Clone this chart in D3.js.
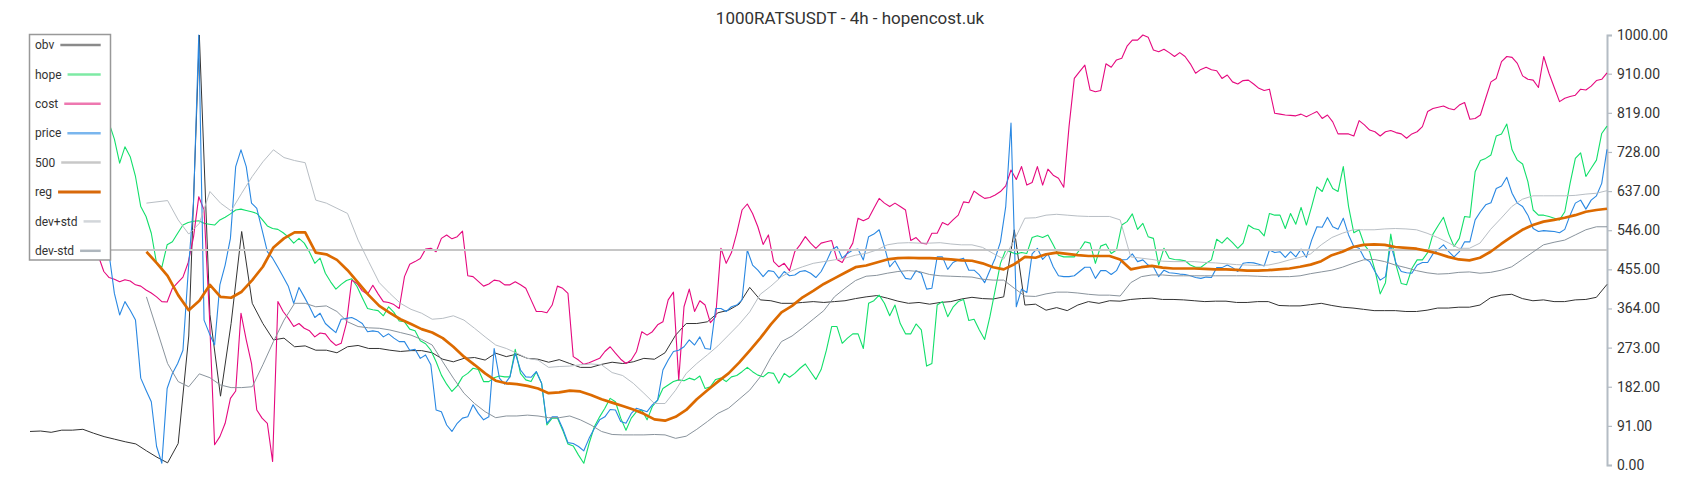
<!DOCTYPE html>
<html><head><meta charset="utf-8">
<script src="https://cdn.jsdelivr.net/npm/d3@7"></script>
<style>body{margin:0;background:#fff;} svg{display:block;font-family:Roboto, sans-serif;}</style>
</head><body><svg id="chart" width="1700" height="500"></svg>
<script>
// ---- data (values on a 0..1000 normalised scale) ----
const obv = [78,79,76,81,81,83,74,66,60,54,
49,33,18,5,50,300,1000,350,160,329,
543,376,329,291,295,275,277,267,267,261,
275,278,271,271,267,264,266,266,261,246,
240,248,250,244,260,252,258,248,246,239,
245,236,227,227,234,239,236,240,248,246,
261,302,329,329,333,354,360,374,413,384,
382,376,376,378,380,378,380,382,387,391,
394,388,381,376,378,374,378,380,386,390,
387,386,391,547,372,374,360,366,359,372,
380,376,382,381,385,387,388,385,385,384,
382,380,381,381,378,378,380,380,371,370,
370,373,376,371,367,365,362,359,359,359,
357,357,360,365,365,367,367,372,389,395,
397,387,382,384,380,380,384,385,390,420];

const hope = [700,710,740,760,750,780,800,790,810,800,820,810,800,790,800,
795,
758,702,740,717,671,601,578,539,469,460,512,519,539,558,564,567,568,562,560,558,570,576,584,593,595,592,589,585,571,556,550,
548,540,530,516,527,516,495,469,481,446,426,409,420,429,433,415,389,364,361,359,347,368,355,335,333,316,312,289,282,267,240,209,188,171,184,205,213,225,222,194,194,203,207,205,205,
269,213,198,
194,217,190,93,109,109,81,49,44,23,4,50,89,112,132,155,147,109,81,109,124,128,105,136,151,178,186,194,198,196,202,198,207,178,182,199,202,194,205,208,217,227,217,209,205,215,213,190,
213,204,213,225,235,217,199,222,267,322,322,283,295,305,305,271,376,382,395,376,347,372,329,305,305,328,314,230,236,372,380,345,367,380,385,336,339,314,292,345,407,469,500,495,491,494,492,
529,533,529,535,512,488,484,484,484,500,519,516,469,509,514,492,500,558,566,584,548,562,531,527,465,504,481,478,477,475,465,460,460,469,477,525,516,529,517,504,516,558,550,547,533,585,581,
581,550,585,560,599,558,601,647,636,667,643,636,694,601,540,547,512,496,453,398,424,537,465,422,419,457,477,477,494,537,557,576,537,508,527,578,576,682,708,713,721,765,770,793,733,709,700,659,593,581,581,578,574,570,589,655,713,726,671,690,709,771,788];

const cost = [560,555,545,540,535,530,525,520,515,510,505,500,495,485,
450,436,432,426,431,428,419,416,407,400,391,380,379,411,424,437,471,530,624,593,353,47,66,97,155,172,353,291,236,128,109,97,8,
380,357,341,322,329,318,312,298,307,305,289,278,283,330,430,422,405,397,418,398,380,378,373,364,438,467,473,480,502,504,496,527,535,526,531,544,440,438,427,416,421,430,428,419,419,426,
419,411,384,357,357,354,372,416,411,399,252,244,234,238,243,248,264,275,260,246,236,244,264,310,302,310,326,333,384,402,198,368,409,357,382,372,331,345,504,469,494,539,593,607,585,554,513,535,473,461,
469,452,496,512,531,516,504,516,519,522,478,471,494,516,574,568,574,597,620,609,601,609,601,593,522,529,516,514,539,539,564,558,570,581,612,610,637,628,620,622,628,636,649,686,664,694,
651,657,694,651,688,674,667,646,787,899,915,930,872,868,871,933,925,942,946,974,988,988,1000,995,965,961,967,959,950,959,950,933,911,920,925,919,917,899,907,891,886,894,895,886,876,871,874,
818,816,814,813,812,816,810,816,822,806,814,798,770,770,770,765,801,791,779,775,765,775,778,773,770,760,770,775,787,822,829,832,835,829,826,837,843,804,806,814,853,891,899,938,950,948,934,905,897,895,878,950,911,878,845,853,857,860,874,872,881,894,897,912];

const price = [600,610,620,610,600,590,580,570,560,550,540,530,520,510,500,490,
399,349,380,360,337,202,174,147,43,4,178,213,236,267,450,609,1000,337,306,279,419,465,527,694,733,694,609,597,547,496,481,
460,438,415,376,413,391,368,343,353,329,318,308,339,341,343,337,329,310,312,310,298,305,295,287,287,267,269,248,256,233,128,124,93,78,97,109,112,140,120,105,112,271,202,188,205,260,221,
205,204,217,190,97,112,112,85,52,50,43,33,62,85,105,112,129,128,101,97,120,132,128,124,140,151,221,244,264,267,275,291,279,298,271,269,364,364,357,368,372,384,500,465,453,438,452,450,434,
450,440,442,450,452,446,436,450,473,500,508,481,492,500,502,477,531,537,547,508,461,475,453,434,432,452,446,409,411,484,484,455,471,477,481,453,453,442,424,453,481,519,601,795,368,
409,401,491,504,478,491,461,440,438,438,440,450,460,460,434,452,452,443,452,477,478,491,473,477,465,461,438,453,447,446,444,443,440,436,434,437,436,459,459,465,459,450,469,471,470,467,463,500,494,
496,483,496,484,502,483,523,554,553,576,554,548,574,535,508,504,481,473,450,430,438,512,469,450,447,446,465,471,471,491,501,512,496,484,496,519,519,570,589,605,610,643,649,669,632,609,601,581,550,543,545,544,543,540,548,581,609,616,595,616,626,655,734];

const level500 = 500;

const reg = [null,null,null,null,null,null,null,null,null,null,null,
496,469,440,395,360,382,419,391,389,403,430,461,506,
527,541,541,494,490,477,453,424,395,370,354,339,328,316,308,295,275,252,233,213,196,190,188,184,
178,167,169,173,171,163,153,145,137,129,119,106,103,112,128,153,174,194,213,238,266,295,327,
355,370,390,405,421,434,447,460,464,471,478,481,482,481,481,480,478,476,475,469,460,455,467,484,
482,490,494,491,488,486,486,486,478,455,460,463,459,457,457,457,456,455,455,454,452,452,453,455,
457,461,466,474,488,496,507,512,513,512,507,505,503,498,492,484,478,476,482,496,514,531,547,558,566,570,575,581,589,593,596];

const devPlus = [null,null,null,null,null,null,null,null,null,null,null,
609,612,615,570,537,562,636,609,591,632,671,705,733,
715,708,703,616,609,597,585,523,473,424,399,376,362,353,339,341,347,337,318,298,279,271,260,248,
244,227,229,230,233,235,233,215,208,190,167,143,143,174,213,236,256,277,302,327,356,397,416,
438,452,461,469,473,477,481,488,492,500,512,516,517,516,516,517,514,512,512,506,492,479,523,574,
575,581,583,581,579,578,578,578,570,484,481,478,474,473,473,473,471,470,468,466,465,464,465,470,
477,483,491,512,529,539,547,547,547,549,550,549,547,539,529,517,504,504,516,548,574,601,618,626,626,626,626,627,630,632,638];

const devMinus = [null,null,null,null,null,null,null,null,null,null,null,
391,314,236,194,182,212,203,186,180,180,182,233,287,
337,376,376,368,370,357,333,322,319,318,314,308,302,292,279,240,202,167,143,124,110,114,114,116,
114,110,110,114,105,93,78,71,70,70,70,71,70,62,67,83,101,120,132,153,174,205,250,
287,300,319,339,359,391,411,429,439,441,446,450,452,450,443,440,439,438,437,432,430,430,411,393,
392,398,402,402,400,397,395,395,393,424,438,442,442,440,440,440,440,440,440,440,440,439,438,438,
438,440,445,449,453,460,469,477,478,473,465,459,452,447,444,445,448,449,446,448,453,461,478,495,512,518,523,535,547,554,554];

const tickValues = [0,91,182,273,364,455,546,637,728,819,910,1000];
const legendNames = ["obv","hope","cost","price","500","reg","dev+std","dev-std"];
const titleText = "1000RATSUSDT - 4h - hopencost.uk";

// ---- drawing ----
const svg = d3.select("#chart");
const X0 = 30, X1 = 1607;
const y = d3.scaleLinear().domain([0, 1000]).range([465, 35]);

svg.append("text").attr("x", 850).attr("y", 24).attr("text-anchor", "middle")
  .attr("font-size", 17).attr("fill", "#333").text(titleText);

const axis = d3.axisRight(y).tickValues(tickValues).tickFormat(d3.format(".2f"))
  .tickSize(5).tickSizeOuter(5).tickPadding(5);
const ga = svg.append("g").attr("transform", `translate(${X1},0)`).call(axis);
ga.select(".domain").attr("stroke", "#b4bcc4").attr("stroke-width", 2);
ga.selectAll(".tick line").attr("stroke", "#b4bcc4").attr("stroke-width", 1.2);
ga.selectAll(".tick text").attr("fill", "#333").attr("font-size", 14).attr("font-family", "Roboto");

function draw(data, color, w) {
  const x = d3.scaleLinear().domain([0, data.length - 1]).range([X0, X1]);
  const line = d3.line().defined(d => d != null).x((d, i) => x(i)).y(d => y(d));
  svg.append("path").datum(data).attr("fill", "none").attr("stroke", color)
    .attr("stroke-width", w).attr("stroke-linejoin", "round").attr("d", line);
}
draw(obv, "#333333", 1);
draw(hope, "#12df6a", 1.1);
draw(cost, "#e5097f", 1.1);
draw(price, "#2a88e2", 1.1);
svg.append("line").attr("x1", X0).attr("x2", X1).attr("y1", y(level500)).attr("y2", y(level500))
  .attr("stroke", "#c6c6c6").attr("stroke-width", 2);
draw(reg, "#dc6a00", 2.7);
draw(devPlus, "#b8bec4", 1);
draw(devMinus, "#89939c", 1);

// legend
const legendColors = ["#8a8a8a", "#7eeaa4", "#ee78b0", "#7ab6ee", "#c8c8c8", "#d8690a", "#d2d6da", "#aeb6bd"];
const legendWidths = [2.5, 2.5, 2.5, 2.5, 2.5, 2.8, 2.5, 2.5];
const lg = svg.append("g");
lg.append("rect").attr("x", 29.5).attr("y", 34.5).attr("width", 81).attr("height", 225.5)
  .attr("fill", "#fff").attr("stroke", "#999").attr("stroke-width", 1.5);
legendNames.forEach((name, i) => {
  const cy = 45 + 29.4 * i;
  const t = lg.append("text").attr("x", 35).attr("y", cy).attr("dy", "0.35em")
    .attr("font-size", 12).attr("fill", "#333").text(name);
  const w = t.node().getComputedTextLength();
  lg.append("line").attr("x1", 35 + w + 6).attr("x2", 100.7).attr("y1", cy).attr("y2", cy)
    .attr("stroke", legendColors[i]).attr("stroke-width", legendWidths[i]);
});
</script></body></html>
